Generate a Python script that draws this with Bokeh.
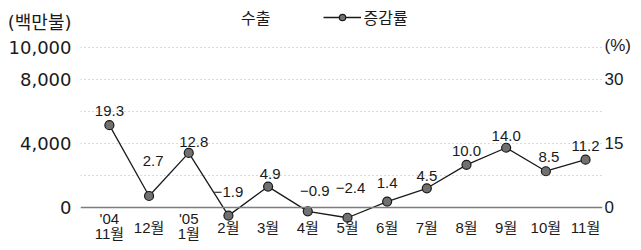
from bokeh.plotting import figure
from bokeh.models import (Range1d, LinearAxis, FixedTicker, NumeralTickFormatter,
                          Span, Legend, LegendItem, ColumnDataSource)
from bokeh.core.properties import value
from bokeh.embed import file_html
from bokeh.resources import INLINE

# ---- data ----
months = ["11월", "12월", "1월", "2월", "3월", "4월", "5월", "6월", "7월", "8월", "9월", "10월", "11월"]
years = ["'04", "", "'05", "", "", "", "", "", "", "", "", "", ""]
growth = [19.3, 2.7, 12.8, -1.9, 4.9, -0.9, -2.4, 1.4, 4.5, 10.0, 14.0, 8.5, 11.2]
left_ticks = [0, 4000, 8000, 10000]
right_ticks = [0, 15, 30]
grid_ticks = [2000, 4000, 6000, 8000, 10000]

# label nudges (pixels) for the growth-rate value labels
label_dx = [0, 4, 5, 0, 2, 7, 3, 0, 0, 0, 0, 3, 0]
label_dy = [-14, -35, -11, -24, -13, -20, -30, -19, -12, -14, -12, -14, -14]

NFONT = "'DejaVu Sans', 'Noto Sans CJK KR', sans-serif"
FONT = "'Liberation Sans', 'Noto Sans CJK KR', sans-serif"
KFONT = "'Noto Sans CJK KR', sans-serif"

# ---- layout constants ----
W, H = 633, 242
ZERO_PX = 207          # canvas y of the 0 line
PX_PER_UNIT = 0.016    # px per 백만불
SCALE = 30 / 8000      # % per 백만불 (30% aligned with 8,000)
FRAME_L, FRAME_R = 80, 604
X0_PX, DX_PX = 109, 39.83


def val(ypx):
    return (ZERO_PX - ypx) / PX_PER_UNIT


y_top, y_bot = val(0), val(H)
x_start = (FRAME_L - X0_PX) / DX_PX
x_end = (FRAME_R - X0_PX) / DX_PX

xs = list(range(len(months)))

p = figure(width=W, height=H, output_backend="svg", toolbar_location=None,
           x_range=Range1d(x_start, x_end), y_range=Range1d(y_bot, y_top),
           x_axis_location=None, min_border_left=FRAME_L, min_border_right=W - FRAME_R,
           min_border_top=0, min_border_bottom=0)
p.outline_line_color = None
p.background_fill_color = "white"
p.border_fill_color = "white"

p.extra_y_ranges = {"pct": Range1d(y_bot * SCALE, y_top * SCALE)}

# left axis (with unit label as top tick)
unit_tick = 11550
ya = p.yaxis[0]
ya.ticker = FixedTicker(ticks=left_ticks + [unit_tick])
ya.formatter = NumeralTickFormatter(format="0,0")
ya.major_label_overrides = {unit_tick: "(백만불)"}
ya.axis_line_color = None
ya.major_tick_line_color = None
ya.minor_tick_line_color = None
ya.major_tick_out = 0
ya.major_tick_in = 0
ya.minor_tick_out = 0
ya.minor_tick_in = 0
ya.major_label_text_font = NFONT
ya.major_label_text_font_size = "18px"
ya.major_label_text_color = "#1a1a1a"
ya.major_label_standoff = 9

# right axis (with unit label as top tick)
pct_unit_tick = 38
ra = LinearAxis(y_range_name="pct", ticker=FixedTicker(ticks=right_ticks + [pct_unit_tick]))
ra.major_label_overrides = {pct_unit_tick: "(%)"}
ra.axis_line_color = None
ra.major_tick_line_color = None
ra.minor_tick_line_color = None
ra.major_tick_out = 0
ra.major_tick_in = 0
ra.minor_tick_out = 0
ra.minor_tick_in = 0
ra.major_label_text_font = FONT
ra.major_label_text_font_size = "17px"
ra.major_label_text_color = "#1a1a1a"
ra.major_label_standoff = 2
p.add_layout(ra, "right")

# grid
p.xgrid.visible = False
p.ygrid.ticker = FixedTicker(ticks=grid_ticks)
p.ygrid.grid_line_color = "#b5b5b5"
p.ygrid.grid_line_dash = "1 3"
p.ygrid.grid_line_width = 1

p.add_layout(Span(location=0, dimension="width", line_color="#7d7d7d", line_width=1.6))

# export bars (not legible in the source) - legend entry only
bars = p.vbar(x=[], top=[], width=0.6, fill_alpha=0, line_alpha=0)

# growth line
src = ColumnDataSource(dict(
    x=xs, y=growth,
    t=[f"{v:.1f}".replace("-", "\u2212") for v in growth],
    dx=label_dx, dy=label_dy,
))
ln = p.line("x", "y", source=src, y_range_name="pct", line_color="#1a1a1a", line_width=1.3)
sc = p.scatter("x", "y", source=src, y_range_name="pct", size=9,
               fill_color="#707070", line_color="#1a1a1a", line_width=1.2)
p.text("x", "y", text="t", source=src, y_range_name="pct", x_offset="dx", y_offset="dy",
       text_align="center", text_baseline="middle", text_font=value(FONT),
       text_font_size="15px", text_color="#1a1a1a")

# x category labels (two-line where a year is shown)
lab_x, lab_y, lab_t = [], [], []
for i, (m, yr) in enumerate(zip(months, years)):
    if yr:
        lab_x += [i, i]
        lab_y += [val(218), val(233)]
        lab_t += [yr, m]
    else:
        lab_x.append(i)
        lab_y.append(val(227))
        lab_t.append(m)
p.text(lab_x, lab_y, text=lab_t, text_align="center", text_baseline="middle",
       text_font=value(FONT), text_font_size="15px", text_color="#1a1a1a")

# legend
leg = Legend(items=[LegendItem(label="수출", renderers=[bars]),
                    LegendItem(label="증감률", renderers=[ln, sc])],
             location=(121, 213), orientation="horizontal",
             glyph_width=38, glyph_height=16, label_standoff=2, padding=0, margin=0,
             spacing=53, border_line_color=None, background_fill_alpha=0,
             label_text_font=KFONT, label_text_font_size="16px", label_text_color="#1a1a1a")
p.add_layout(leg, "center")

open("out.html", "w").write(file_html(p, INLINE))
